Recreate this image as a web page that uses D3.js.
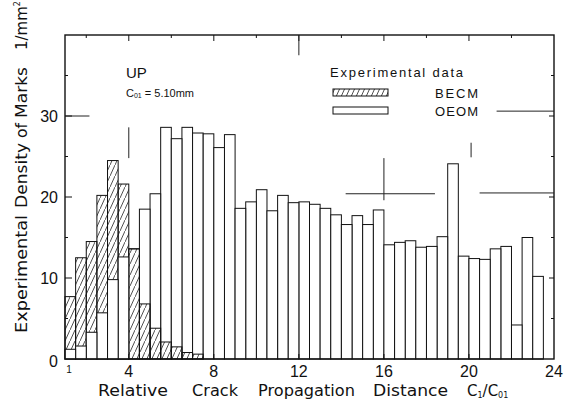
<!DOCTYPE html>
<html>
<head>
<meta charset="utf-8">
<script src="https://cdn.jsdelivr.net/npm/d3@7"></script>
<style>
body { margin: 0; background: #fff; }
text { font-family: "Liberation Sans", Arial, sans-serif; fill: #111; }
.title { font-family: "DejaVu Sans", sans-serif; font-size: 15px; }
</style>
</head>
<body>
<div id="chart"></div>
<script>
// Data: bins of 0.5 in C1/C01, left edge of each bin
const bins = [1, 1.5, 2, 2.5, 3, 3.5, 4, 4.5, 5, 5.5, 6, 6.5, 7, 7.5, 8, 8.5, 9, 9.5, 10, 10.5,
    11, 11.5, 12, 12.5, 13, 13.5, 14, 14.5, 15, 15.5, 16, 16.5, 17, 17.5, 18, 18.5, 19, 19.5,
    20, 20.5, 21, 21.5, 22, 22.5, 23];
const becm = [7.7, 12.5, 14.5, 20.2, 24.5, 21.6, 13.6, 6.8, 3.8, 2.1, 1.5, 0.8, 0.6];
const oeom = [1.2, 1.6, 3.3, 5.7, 9.8, 12.6, 13.6, 18.5, 20.4, 28.6, 27.2, 28.6, 27.9, 27.8,
    26.1, 27.7, 18.6, 19.4, 20.9, 18.3, 20.2, 19.3, 19.4, 19.1, 18.6, 17.8, 16.6, 17.7, 16.6,
    18.4, 14.1, 14.4, 14.6, 13.8, 13.9, 15.1, 24.1, 12.7, 12.4, 12.3, 13.6, 13.9, 4.2, 15.0, 10.2];
const binWidth = 0.5;
const xTickLabels = [1, 4, 8, 12, 16, 20, 24];
const yTickLabels = [0, 10, 20, 30];

const W = 566, H = 406;
const plotL = 65, plotR = 554, plotT = 35, plotB = 359;

const svg = d3.select("#chart").append("svg")
    .attr("width", W)
    .attr("height", H);

const x = d3.scaleLinear().domain([1, 24]).range([plotL, plotR]);
const y = d3.scaleLinear().domain([0, 40]).range([plotB, plotT]);

// hatch pattern for BECM
const defs = svg.append("defs");
defs.append("pattern")
    .attr("id", "hatch")
    .attr("patternUnits", "userSpaceOnUse")
    .attr("width", 5)
    .attr("height", 11)
    .append("path")
    .attr("d", "M-1,13.2 L6,-2.2")
    .attr("stroke", "#222")
    .attr("stroke-width", 0.8);

// bars: taller drawn first so the shorter one sits on top
const bars = [];
bins.forEach((b, i) => {
    bars.push({b: b, v: oeom[i], s: "o"});
    if (becm[i]) bars.push({b: b, v: becm[i], s: "h"});
});
bars.sort((a, b) => b.v - a.v || (a.s === "o" ? -1 : 1));

svg.append("g").selectAll("rect")
    .data(bars)
    .enter()
    .append("rect")
    .attr("x", d => x(d.b))
    .attr("y", d => y(d.v))
    .attr("width", x(binWidth + 1) - x(1))
    .attr("height", d => y(0) - y(d.v))
    .attr("fill", d => d.s === "h" ? "url(#hatch)" : "#fff")
    .attr("stroke", "#111")
    .attr("stroke-width", 1);

// frame
svg.append("rect")
    .attr("x", plotL).attr("y", plotT)
    .attr("width", plotR - plotL).attr("height", plotB - plotT)
    .attr("fill", "none")
    .attr("stroke", "#111")
    .attr("stroke-width", 1.4);

// inner ticks
const tickG = svg.append("g").attr("stroke", "#111").attr("stroke-width", 1);
[4, 8, 12, 16, 20].forEach(t => {
    tickG.append("line").attr("x1", x(t)).attr("x2", x(t)).attr("y1", plotT).attr("y2", plotT + 6);
    tickG.append("line").attr("x1", x(t)).attr("x2", x(t)).attr("y1", plotB).attr("y2", plotB - 5);
});
[2, 6, 10, 14, 18, 22].forEach(t => {
    tickG.append("line").attr("x1", x(t)).attr("x2", x(t)).attr("y1", plotT).attr("y2", plotT + 3);
});
[10, 20, 30].forEach(t => {
    tickG.append("line").attr("x1", plotL).attr("x2", plotL + 7).attr("y1", y(t)).attr("y2", y(t));
    tickG.append("line").attr("x1", plotR).attr("x2", plotR - 5).attr("y1", y(t)).attr("y2", y(t));
});
[5, 15, 25, 35].forEach(t => {
    tickG.append("line").attr("x1", plotL).attr("x2", plotL + 3).attr("y1", y(t)).attr("y2", y(t));
    tickG.append("line").attr("x1", plotR).attr("x2", plotR - 3).attr("y1", y(t)).attr("y2", y(t));
});

// stray drafting marks on the original sheet
const strays = [
    [1, 30, 2.15, 30], [4, 28.6, 4, 24.8], [12, 40, 12, 37.5],
    [14.2, 20.4, 18.4, 20.4], [16, 24.8, 16, 19.6], [20.1, 26.7, 20.1, 24.9],
    [20.5, 20.5, 24, 20.5], [21.3, 30.6, 24, 30.6]
];
svg.append("g").selectAll("line")
    .data(strays)
    .enter()
    .append("line")
    .attr("x1", d => x(d[0])).attr("y1", d => y(d[1]))
    .attr("x2", d => x(d[2])).attr("y2", d => y(d[3]))
    .attr("stroke", "#222")
    .attr("stroke-width", 1);

// tick labels
svg.append("g").selectAll("text")
    .data(xTickLabels)
    .enter()
    .append("text")
    .attr("x", d => x(d) + (d === 1 ? 4 : 0))
    .attr("y", d => d === 1 ? 373 : 377)
    .attr("text-anchor", "middle")
    .style("font-size", d => d === 1 ? "10px" : "16px")
    .text(d => d);

svg.append("g").selectAll("text")
    .data(yTickLabels)
    .enter()
    .append("text")
    .attr("x", 58)
    .attr("y", d => d === 0 ? 367 : y(d) + 6)
    .attr("text-anchor", "end")
    .style("font-size", "16px")
    .text(d => d);

// x title, word by word (wide lettering, wide gaps)
const xWords = [["Relative", 98, 70], ["Crack", 192, 46], ["Propagation", 258, 97], ["Distance", 373, 75]];
xWords.forEach(w => {
    svg.append("text")
        .attr("class", "title")
        .attr("x", w[1]).attr("y", 396)
        .attr("textLength", w[2])
        .attr("lengthAdjust", "spacingAndGlyphs")
        .text(w[0]);
});
const cText = svg.append("text")
    .attr("class", "title")
    .attr("x", 467).attr("y", 396);
cText.append("tspan").text("C");
cText.append("tspan").attr("dy", 2).style("font-size", "8px").text("1");
cText.append("tspan").attr("dy", -2).text("/C");
cText.append("tspan").attr("dy", 2).style("font-size", "8px").text("01");

// y title, rotated, word by word
const yWords = [["Experimental", 0, 118], ["Density", 125, 65], ["of", 195, 15], ["Marks", 215, 51]];
const yTitle = svg.append("g").attr("transform", "translate(27,333) rotate(-90)");
yWords.forEach(w => {
    yTitle.append("text")
        .attr("class", "title")
        .attr("x", w[1]).attr("y", 0)
        .attr("textLength", w[2])
        .attr("lengthAdjust", "spacingAndGlyphs")
        .text(w[0]);
});
const unit = yTitle.append("text").attr("class", "title").attr("x", 283).attr("y", 0);
unit.append("tspan").text("1/mm");
unit.append("tspan").attr("dy", -7).style("font-size", "8px").text("2");

// annotations
svg.append("text")
    .attr("x", 126).attr("y", 78)
    .style("font-size", "15px")
    .text("UP");
const c01 = svg.append("text")
    .attr("x", 126).attr("y", 97)
    .style("font-size", "11px");
c01.append("tspan").text("C");
c01.append("tspan").attr("dy", 1).style("font-size", "7px").text("01");
c01.append("tspan").attr("dy", -1).text(" = 5.10mm");

// legend
svg.append("text")
    .attr("x", 330).attr("y", 77)
    .style("font-size", "13px")
    .attr("textLength", 133)
    .attr("lengthAdjust", "spacing")
    .text("Experimental  data");
const legend = [
    {label: "BECM", fill: "url(#hatch)", yv: 93},
    {label: "OEOM", fill: "#fff", yv: 111}
];
legend.forEach(l => {
    svg.append("rect")
        .attr("x", 333).attr("y", l.yv - 4)
        .attr("width", 55).attr("height", 7)
        .attr("fill", l.fill)
        .attr("stroke", "#111")
        .attr("stroke-width", 1);
    svg.append("text")
        .attr("x", 435).attr("y", l.yv + 5)
        .style("font-size", "13px")
        .attr("textLength", 43)
        .attr("lengthAdjust", "spacing")
        .text(l.label);
});
</script>
</body>
</html>
